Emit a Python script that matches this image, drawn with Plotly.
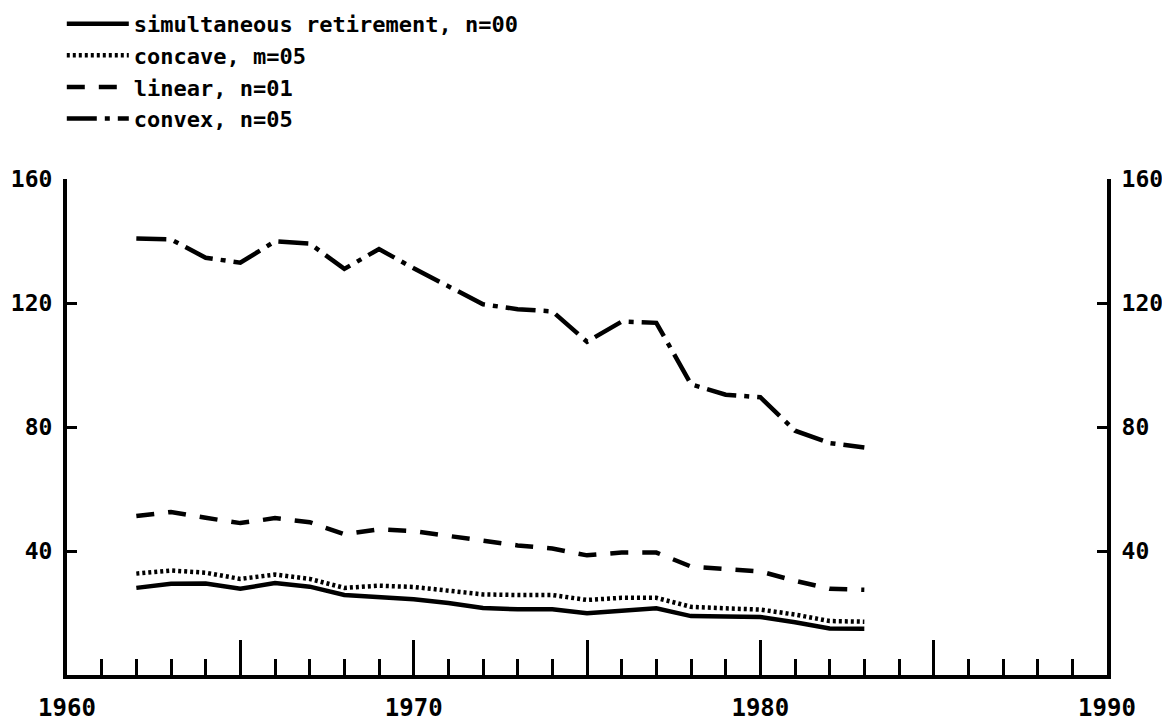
import plotly.graph_objects as go

years = list(range(1962, 1984))

simultaneous = [28.1, 29.4, 29.5, 27.8, 29.7, 28.5, 25.8, 25.2, 24.4, 23.2, 21.6,
                21.2, 21.2, 19.9, 20.6, 21.5, 19.0, 18.7, 18.7, 17.0, 15.0, 14.9]
concave = [32.7, 33.7, 33.0, 31.0, 32.4, 31.0, 28.1, 28.8, 28.4, 27.2, 26.0,
           25.8, 25.8, 24.2, 24.9, 24.9, 22.0, 21.5, 21.1, 19.5, 17.4, 17.2]
linear = [51.3, 52.6, 50.7, 49.0, 50.6, 49.3, 45.4, 47.0, 46.4, 44.8, 43.2,
          41.8, 40.8, 38.6, 39.5, 39.5, 35.0, 34.3, 33.4, 30.4, 27.8, 27.5]
convex = [140.8, 140.5, 134.6, 133.0, 139.9, 139.2, 131.0, 137.4, 131.2, 125.6, 119.6,
          118.0, 117.3, 107.5, 114.0, 113.6, 93.8, 90.4, 89.6, 78.8, 74.8, 73.4]

names = ["simultaneous retirement, n=00", "concave, m=05", "linear, n=01", "convex, n=05"]
series = [simultaneous, concave, linear, convex]
dashes = ["solid", "3px,3px", "18px,14px", "30px,8px,5px,8px"]

x_ticks = [1960, 1965, 1970, 1975, 1980, 1985, 1990]
x_text = ["1960", "", "1970", "", "1980", "", "1990"]
y_ticks = [40, 80, 120, 160]

FONT = "DejaVu Sans Mono"

fig = go.Figure()
for name, vals, dash in zip(names, series, dashes):
    fig.add_trace(go.Scatter(
        x=years, y=vals, name=name, mode="lines",
        line=dict(color="black", width=4.5, dash=dash)))

# copia invisible para el eje derecho
fig.add_trace(go.Scatter(x=years, y=convex, yaxis="y2", showlegend=False,
                         mode="lines", line=dict(width=0), hoverinfo="skip"))

axis_style = dict(showgrid=False, zeroline=False, showline=True,
                  linecolor="black", linewidth=4, tickcolor="black")
tick_font = dict(family=FONT, size=23, weight="bold")

# la página deja 8px de margen, así que la figura es 8px más chica
fig.update_layout(
    width=1162, height=713,
    paper_bgcolor="white", plot_bgcolor="white",
    margin=dict(l=59, r=63, t=171, b=46, autoexpand=False),
    font=dict(family=FONT, color="black", size=20),
    showlegend=True,
    legend=dict(x=-0.005, y=1.355, xanchor="left", yanchor="top",
                bgcolor="rgba(0,0,0,0)", tracegroupgap=0,
                font=dict(family=FONT, size=22, weight="bold"),
                itemwidth=62),
    xaxis=dict(range=[1960, 1990], **axis_style,
               tickmode="array", tickvals=x_ticks, ticktext=x_text,
               ticks="inside", ticklen=35, tickwidth=3,
               minor=dict(ticks="inside", ticklen=16, tickwidth=3,
                          tickcolor="black", dtick=1, tick0=1960),
               tickfont=dict(family=FONT, size=24, weight="bold"),
               ticklabelstandoff=8),
    yaxis=dict(range=[0, 160], **axis_style,
               tickmode="array", tickvals=y_ticks,
               ticks="inside", ticklen=10, tickwidth=3,
               tickfont=tick_font, ticklabelstandoff=6),
    yaxis2=dict(range=[0, 160], overlaying="y", side="right", **axis_style,
                tickmode="array", tickvals=y_ticks,
                ticks="inside", ticklen=10, tickwidth=3,
                tickfont=tick_font, ticklabelstandoff=6),
)

fig.write_html("out.html")
